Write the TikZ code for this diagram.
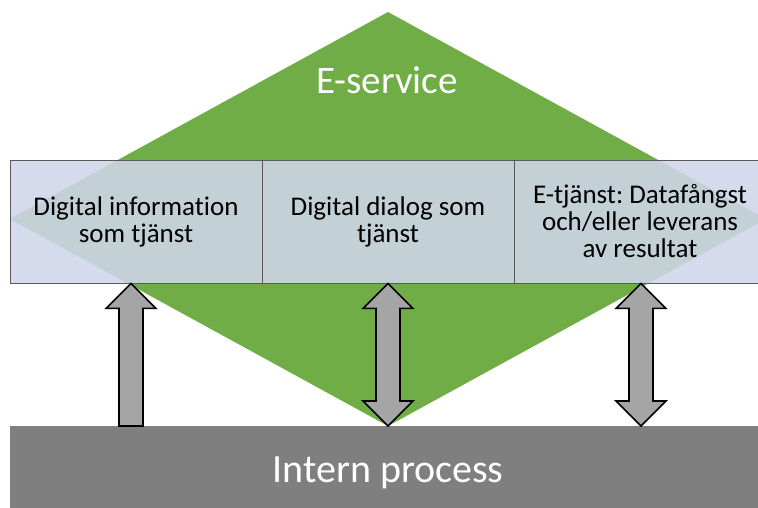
\documentclass[tikz,border=0pt]{standalone}
\usepackage{fontspec}
\setmainfont{Carlito}[Ligatures=NoCommon]
\frenchspacing
\usetikzlibrary{calc}

\definecolor{servgreen}{RGB}{112,173,71}
\definecolor{celllav}{RGB}{207,213,234}
\definecolor{procgray}{RGB}{127,127,127}
\definecolor{arrgray}{RGB}{165,165,165}
\definecolor{cellline}{RGB}{89,89,89}

\tikzset{
  cell/.style={draw=cellline, line width=0.8pt, fill=celllav, fill opacity=0.88,
    text opacity=1, minimum width=252pt, minimum height=123pt, inner sep=0pt,
    align=center, font=\fontsize{27}{27}\selectfont},
  blockarr/.style={draw=black, line width=1.6pt, fill=arrgray, line join=miter},
}

\begin{document}
\begin{tikzpicture}[x=1pt,y=-1pt]
    \useasboundingbox (0,0) rectangle (758,508);
    \clip (0,0) rectangle (758,508);

    % Draw the diamond
    \fill[servgreen] (388,12) -- (766,219) -- (388,426) -- (10,219) -- cycle;
    \node[anchor=base, text=white, font=\fontsize{39}{40}\selectfont] (eserv) at (387,94) {E-service};

    % Draw the three cells
    \node[cell] (info) at (136,221.5) {Digital information\\som tjänst};
    \node[cell] (dialog) at (388,221.5) {Digital dialog som\\tjänst};
    \node[cell] (etj) at (640,221.5) {E-tjänst: Datafångst\\och/eller leverans\\av resultat};

    % Draw the process bar
    \fill[procgray] (10,426) rectangle (766,508);
    \node[anchor=base, text=white, font=\fontsize{40}{42}\selectfont] (proc) at (388,482) {Intern process};
    \coordinate (bar) at (388,426);

    % Arrow ends
    \coordinate (t1) at (info.south -| 131,0);
    \coordinate (b1) at (bar -| 131,0);
    \coordinate (t2) at (dialog.south -| 388,0);
    \coordinate (b2) at (bar -| 388,0);
    \coordinate (t3) at (etj.south -| 641,0);
    \coordinate (b3) at (bar -| 641,0);

    % Draw the arrows
    \draw[blockarr] (t1) -- ++(25,25) -- ++(-13,0) -- ($(b1)+(12,0)$)
        -- ($(b1)+(-12,0)$) -- ($(t1)+(-12,25)$) -- ++(-13,0) -- cycle;
    \foreach \i in {2,3}
      \draw[blockarr] (t\i) -- ++(25,25) -- ++(-13,0) -- ($(b\i)+(12,-25)$)
          -- ++(13,0) -- (b\i) -- ++(-25,-25) -- ++(13,0)
          -- ($(t\i)+(-12,25)$) -- ++(-13,0) -- cycle;
\end{tikzpicture}
\end{document}
